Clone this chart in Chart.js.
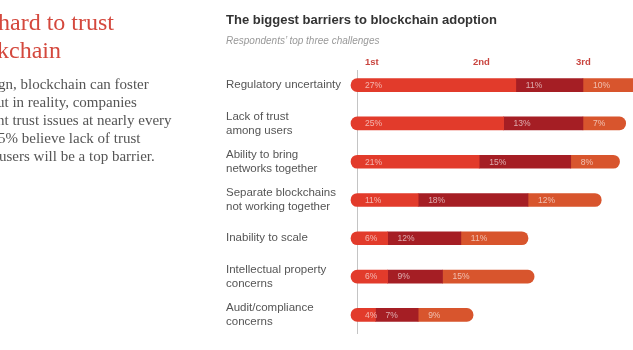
<!DOCTYPE html>
<html>
<head>
<meta charset="utf-8">
<script src="https://cdn.jsdelivr.net/npm/chart.js@4"></script>
<style>
  html, body { margin: 0; padding: 0; background: #fff; }
  #wrap { position: relative; width: 633px; height: 350px; overflow: hidden; }
  #wrap canvas { position: absolute; left: 0; top: 0; }
  .side { position: absolute; white-space: nowrap; font-family: "Liberation Serif", serif; }
  .head { color: #d4483d; font-size: 24px; }
  .body { color: #555; font-size: 15px; }
  .title { position: absolute; left: 226px; top: 12px; font: bold 13px "Liberation Sans", Arial, sans-serif; color: #333; white-space: nowrap; }
  .sub { position: absolute; left: 226px; top: 35px; font: italic 10px "Liberation Sans", Arial, sans-serif; color: #999; white-space: nowrap; }
  .rank { position: absolute; top: 56px; font: bold 9.5px "Liberation Sans", Arial, sans-serif; color: #c9453f; }
</style>
</head>
<body>
<div id="wrap">
  <canvas id="barChart" width="633" height="350"></canvas>
  <div class="side head" style="left:-2px; top:9px;">hard to trust</div>
  <div class="side head" style="left:-3px; top:37px;">kchain</div>
  <div class="side body" style="left:-2px; top:76px;">gn, blockchain can foster</div>
  <div class="side body" style="left:-3px; top:94px;">ut in reality, companies</div>
  <div class="side body" style="left:-3px; top:112px;">nt trust issues at nearly every</div>
  <div class="side body" style="left:-2px; top:130px;">5% believe lack of trust</div>
  <div class="side body" style="left:-1px; top:148px;">users will be a top barrier.</div>
  <div class="title">The biggest barriers to blockchain adoption</div>
  <div class="sub">Respondents’ top three challenges</div>
</div>
<script>
// Chart data
const categories = [
    ['Regulatory uncertainty'],
    ['Lack of trust', 'among users'],
    ['Ability to bring', 'networks together'],
    ['Separate blockchains', 'not working together'],
    ['Inability to scale'],
    ['Intellectual property', 'concerns'],
    ['Audit/compliance', 'concerns']
];
const rankLabels = ['1st', '2nd', '3rd'];
const firstValues = [27, 25, 21, 11, 6, 6, 4];
const secondValues = [11, 13, 15, 18, 12, 9, 7];
const thirdValues = [10, 7, 8, 12, 11, 15, 9];

const colors = ['#e23b2b', '#a51e24', '#d8552d'];
const rankX = [365, 473, 576];

// Column headers over the bars
rankLabels.forEach((txt, i) => {
    const d = document.createElement('div');
    d.className = 'rank';
    d.style.left = rankX[i] + 'px';
    d.textContent = txt;
    document.getElementById('wrap').appendChild(d);
});

// Thin vertical guide line near the bar start
const guideLine = {
    id: 'guideLine',
    beforeDatasetsDraw(chart) {
        const { ctx, chartArea } = chart;
        const x = chartArea.left + 6.5;
        ctx.save();
        ctx.strokeStyle = '#c4c4c4';
        ctx.lineWidth = 1;
        ctx.beginPath();
        ctx.moveTo(x, chartArea.top + 4);
        ctx.lineTo(x, chartArea.bottom);
        ctx.stroke();
        ctx.restore();
    }
};

// Percent labels inside each segment
const segmentLabels = {
    id: 'segmentLabels',
    afterDatasetsDraw(chart) {
        const ctx = chart.ctx;
        ctx.save();
        ctx.font = '8.5px "Liberation Sans", Arial, sans-serif';
        ctx.fillStyle = 'rgba(255,255,255,0.62)';
        ctx.textBaseline = 'middle';
        chart.data.datasets.forEach((ds, di) => {
            chart.getDatasetMeta(di).data.forEach((bar, i) => {
                const pad = di === 0 ? 14 : 10;
                ctx.fillText(ds.data[i] + '%', bar.base + pad, bar.y + 0.5);
            });
        });
        ctx.restore();
    }
};

const r = 7;
new Chart(document.getElementById('barChart').getContext('2d'), {
    type: 'bar',
    data: {
        labels: categories,
        datasets: [
            { label: rankLabels[0], data: firstValues, backgroundColor: colors[0],
              borderRadius: { topLeft: r, bottomLeft: r, topRight: 0, bottomRight: 0 } },
            { label: rankLabels[1], data: secondValues, backgroundColor: colors[1], borderRadius: 0 },
            { label: rankLabels[2], data: thirdValues, backgroundColor: colors[2],
              borderRadius: { topLeft: 0, bottomLeft: 0, topRight: r, bottomRight: r } }
        ]
    },
    options: {
        indexAxis: 'y',
        responsive: false,
        animation: false,
        layout: { padding: { top: 66, bottom: 16, left: 226, right: 0 } },
        datasets: {
            bar: { barThickness: 13, borderSkipped: false, clip: false }
        },
        scales: {
            x: { stacked: true, display: false, min: 0, max: 46.2 },
            y: {
                stacked: true,
                grid: { display: false },
                border: { display: false },
                afterFit(scale) { scale.width = 125; },
                ticks: {
                    crossAlign: 'far',
                    color: '#555',
                    font: { family: '"Liberation Sans", Arial, sans-serif', size: 11.5, lineHeight: 1.22 }
                }
            }
        },
        plugins: {
            legend: { display: false },
            tooltip: { enabled: false }
        }
    },
    plugins: [guideLine, segmentLabels]
});
</script>
</body>
</html>
